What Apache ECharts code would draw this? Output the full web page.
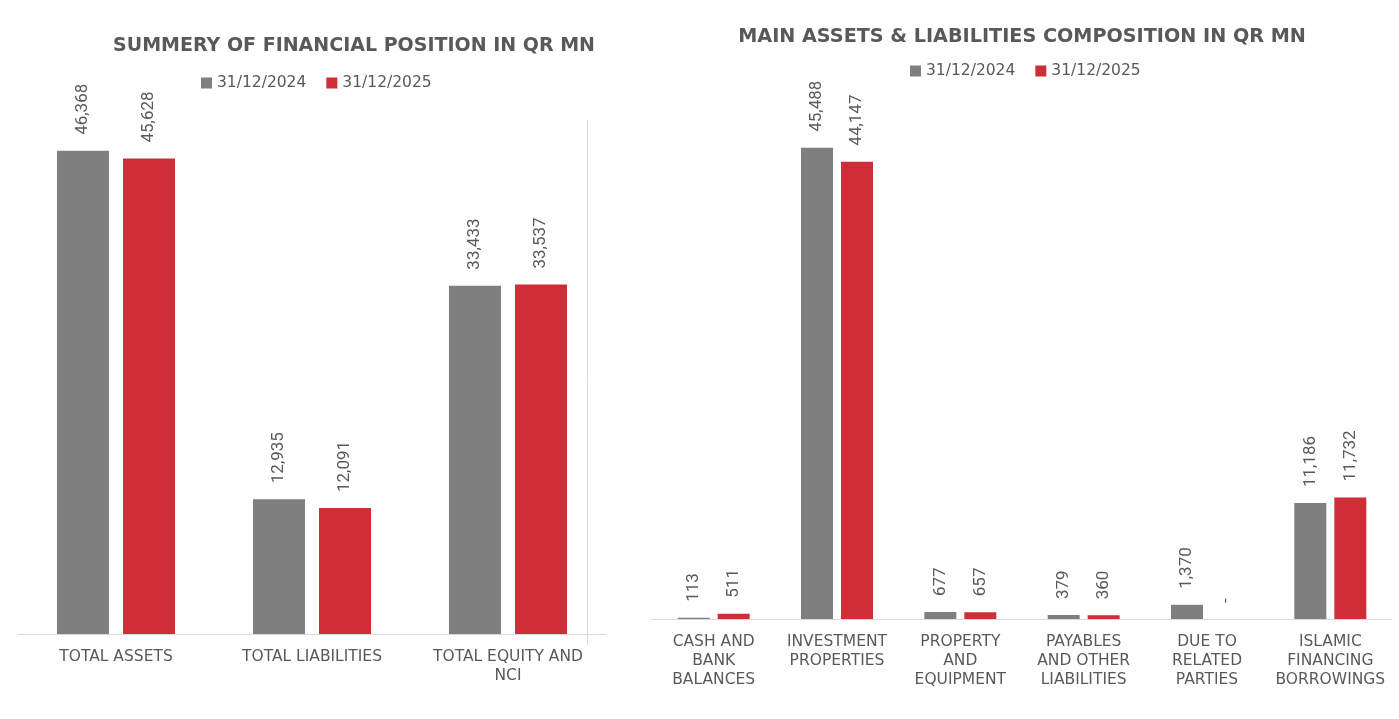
<!DOCTYPE html>
<html><head><meta charset="utf-8">
<script src="https://cdn.jsdelivr.net/npm/echarts@6/dist/echarts.min.js"></script>
<style>html,body{margin:0;padding:0;background:#fff}#c{width:1399px;height:719px}</style>
</head><body><div id="c"></div>
<script>
const seriesNames = ['31/12/2024', '31/12/2025'];
const leftCategories = ['TOTAL ASSETS', 'TOTAL LIABILITIES', 'TOTAL EQUITY AND\nNCI'];
const left2024 = [46368, 12935, 33433];
const left2025 = [45628, 12091, 33537];
const rightCategories = ['CASH AND\nBANK\nBALANCES', 'INVESTMENT\nPROPERTIES', 'PROPERTY\nAND\nEQUIPMENT', 'PAYABLES\nAND OTHER\nLIABILITIES', 'DUE TO\nRELATED\nPARTIES', 'ISLAMIC\nFINANCING\nBORROWINGS'];
const right2024 = [113, 45488, 677, 379, 1370, 11186];
const right2025 = [511, 44147, 657, 360, 0, 11732];

const FONT = 'DejaVu Sans';
const GREY = '#7f7f7f', RED = '#cd2e37', TXT = '#595959';

function draw() {
  const fmt = p => p.value === 0 ? '-' : p.value.toLocaleString('en-US');
  const lbl = {show: true, position: 'top', rotate: 90, align: 'left', verticalAlign: 'middle', distance: 16, color: TXT, fontSize: 17, fontFamily: 'Roboto', formatter: fmt};
  const catAxis = (idx, data, m) => ({type: 'category', gridIndex: idx, data: data,
    axisLine: {lineStyle: {color: '#d9d9d9'}}, axisTick: {show: false},
    axisLabel: {color: TXT, fontSize: 15.5, fontFamily: FONT, lineHeight: 19, margin: m, interval: 0}});
  const valAxis = idx => ({type: 'value', gridIndex: idx, min: 0, max: 50000, show: false, splitLine: {show: false}});
  const legendText = {color: TXT, fontSize: 15.5, fontFamily: FONT};

  const chart = echarts.init(document.getElementById('c'));
  chart.setOption({
    animation: false,
    title: [
      {text: 'SUMMERY OF FINANCIAL POSITION IN QR MN', left: 349, top: 32, textAlign: 'center',
       textStyle: {color: TXT, fontSize: 19, fontWeight: 'bold', fontFamily: FONT}},
      {text: 'MAIN ASSETS & LIABILITIES COMPOSITION IN QR MN', left: 1017, top: 23, textAlign: 'center',
       textStyle: {color: TXT, fontSize: 19.2, fontWeight: 'bold', fontFamily: FONT}}
    ],
    legend: [
      {data: seriesNames.map(n => ({name: n})), left: 196, top: 70, itemWidth: 11, itemHeight: 11, itemGap: 20,
       textStyle: legendText, icon: 'rect'},
      {data: seriesNames.map(n => ({name: n + ' '})), left: 905, top: 58, itemWidth: 11, itemHeight: 11, itemGap: 20,
       textStyle: legendText, icon: 'rect', formatter: n => n.trim()}
    ],
    grid: [
      {left: 18, width: 588, top: 113, height: 521},
      {left: 652, width: 740, top: 101, height: 518}
    ],
    xAxis: [catAxis(0, leftCategories, 13), catAxis(1, rightCategories, 13)],
    yAxis: [valAxis(0), valAxis(1)],
    series: [
      {name: seriesNames[0], type: 'bar', xAxisIndex: 0, yAxisIndex: 0, data: left2024, barWidth: 52, barGap: '27%', itemStyle: {color: GREY}, label: lbl},
      {name: seriesNames[1], type: 'bar', xAxisIndex: 0, yAxisIndex: 0, data: left2025, barWidth: 52, barGap: '27%', itemStyle: {color: RED}, label: lbl},
      {name: seriesNames[0] + ' ', type: 'bar', xAxisIndex: 1, yAxisIndex: 1, data: right2024, barWidth: 32, barGap: '25%', itemStyle: {color: GREY}, label: lbl},
      {name: seriesNames[1] + ' ', type: 'bar', xAxisIndex: 1, yAxisIndex: 1, data: right2025, barWidth: 32, barGap: '25%', itemStyle: {color: RED}, label: lbl}
    ],
    graphic: [
      {type: 'line', shape: {x1: 587.5, y1: 120, x2: 587.5, y2: 645}, style: {stroke: '#d9dbe6', lineWidth: 1}, silent: true}
    ]
  });
}

const fontsToLoad = ['bold 19px "DejaVu Sans"', '15px "DejaVu Sans"', '17px Roboto'];
let drawn = false;
const once = () => { if (!drawn) { drawn = true; draw(); } };
try {
  Promise.all(fontsToLoad.map(f => document.fonts.load(f))).then(once, once);
} catch (e) { once(); }
setTimeout(once, 400);
</script></body></html>
